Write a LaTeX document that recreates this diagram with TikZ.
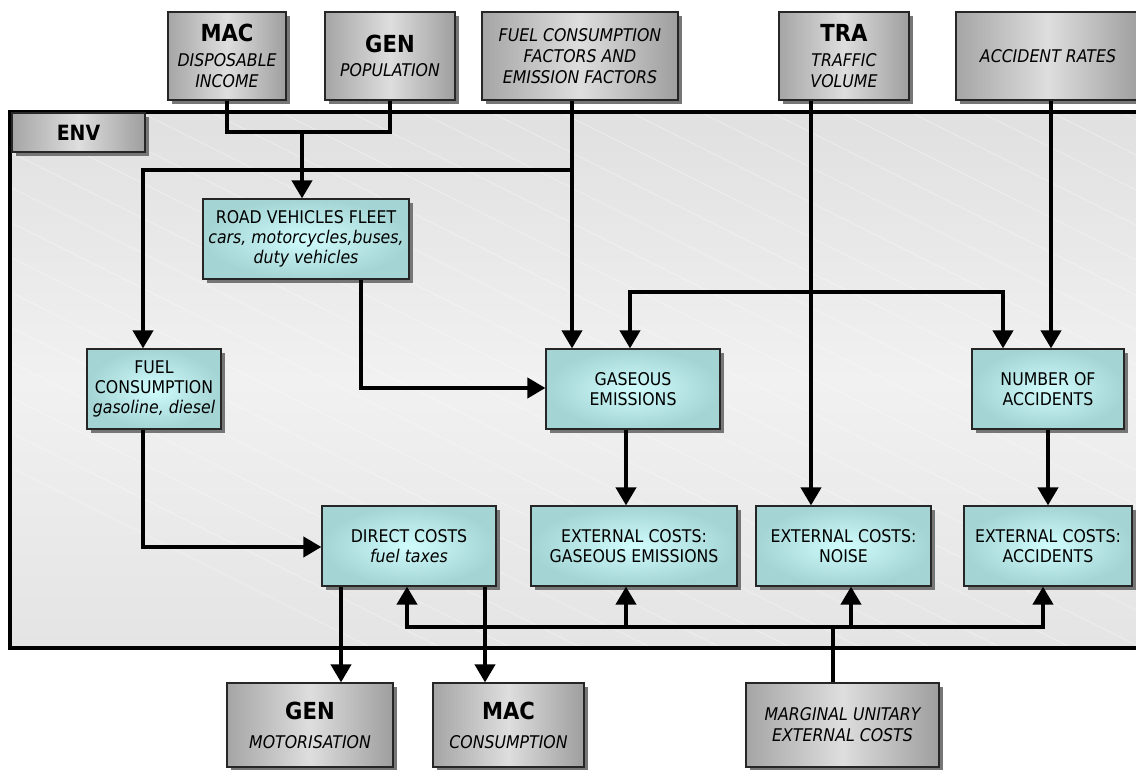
\documentclass[tikz,border=0pt]{standalone}
\usepackage{fontspec}
\setmainfont{DejaVu Sans}[FakeStretch=0.9]
\usetikzlibrary{arrows.meta,shadows}

\definecolor{boxgrayL}{RGB}{165,165,165}
\definecolor{boxgrayM}{RGB}{222,222,222}
\definecolor{boxgrayR}{RGB}{158,158,158}
\definecolor{tealedge}{RGB}{164,212,212}
\definecolor{tealmid}{RGB}{208,252,252}
\definecolor{panelA}{RGB}{224,224,224}
\definecolor{panelB}{RGB}{241,241,241}
\definecolor{panelC}{RGB}{228,228,228}
\definecolor{shadowgray}{RGB}{118,118,118}

\tikzset{
  shadowed/.style={drop shadow={shadow xshift=4pt,shadow yshift=-4pt,opacity=1,fill=shadowgray}},
  wh/.style 2 args={minimum width=#1pt,minimum height=#2pt},
  extbox/.style={shadowed,draw=black!85,line width=1.2pt,
    left color=boxgrayL,right color=boxgrayR,middle color=boxgrayM,
    inner sep=0pt,align=center,font=\fontsize{17.5}{21}\selectfont},
  procbox/.style={shadowed,draw=black!85,line width=1.2pt,
    inner color=tealmid,outer color=tealedge,
    inner sep=0pt,align=center,font=\fontsize{17.5}{20}\selectfont},
  conn/.style={line width=4pt},
  arr/.style={conn,-{Triangle[length=18pt,width=20pt]}},
}
\newcommand\modtitle[1]{{\fontsize{23.5}{21}\selectfont\bfseries #1}}

\begin{document}
\begin{tikzpicture}[x=1pt,y=-1pt]
\useasboundingbox (0,0) rectangle (1136,770);
\clip (0,0) rectangle (1136,770);

% environment module panel
\shade[top color=panelA,bottom color=panelC,middle color=panelB] (10,112) rectangle (1150,648);
\begin{scope}
  \clip (10,112) rectangle (1150,648);
  \foreach \s in {-700,-630,...,1200}
    \draw[white,opacity=.3,line width=1pt] (\s,112) -- ++(1100,550);
\end{scope}
\draw[line width=3.5pt] (10,112) rectangle (1150,648);

\node[extbox,wh={133}{39},font=\fontsize{21}{21}\selectfont\bfseries] (env) at (78.5,132.5) {ENV};

% exogenous inputs
\node[extbox,wh={118}{88}] (macTop) at (227,56) {\modtitle{MAC}\\[4pt]\itshape DISPOSABLE\\\itshape INCOME};
\node[extbox,wh={130}{88}] (genTop) at (390,56) {\modtitle{GEN}\\[3pt]\itshape POPULATION};
\node[extbox,wh={196}{88}] (fuelFac) at (580,56) {\itshape FUEL CONSUMPTION\\\itshape FACTORS AND\\\itshape EMISSION FACTORS};
\node[extbox,wh={130}{88}] (traTop) at (844,56) {\modtitle{TRA}\\[4pt]\itshape TRAFFIC\\\itshape VOLUME};
\node[extbox,wh={184}{88}] (accRates) at (1048,56) {\itshape ACCIDENT RATES};

% processes
\node[procbox,wh={206}{80}] (road) at (306,239) {ROAD VEHICLES FLEET\\\itshape cars, motorcycles,buses,\\\itshape duty vehicles};
\node[procbox,wh={134}{80}] (fuelCons) at (154,389) {FUEL\\CONSUMPTION\\\itshape gasoline, diesel};
\node[procbox,wh={174}{80}] (gaseous) at (633,389) {GASEOUS\\EMISSIONS};
\node[procbox,wh={152}{80}] (numAcc) at (1048,389) {NUMBER OF\\ACCIDENTS};
\node[procbox,wh={174}{80}] (direct) at (409,546) {DIRECT COSTS\\\itshape fuel taxes};
\node[procbox,wh={206}{80}] (extGas) at (634,546) {EXTERNAL COSTS:\\GASEOUS EMISSIONS};
\node[procbox,wh={175}{80}] (extNoise) at (843.5,546) {EXTERNAL COSTS:\\NOISE};
\node[procbox,wh={168}{80}] (extAcc) at (1048,546) {EXTERNAL COSTS:\\ACCIDENTS};

% outputs and cost data
\node[extbox,wh={166}{84}] (genBot) at (310,725) {\modtitle{GEN}\\[8pt]\itshape MOTORISATION};
\node[extbox,wh={151}{84}] (macBot) at (508.5,725) {\modtitle{MAC}\\[8pt]\itshape CONSUMPTION};
\node[extbox,wh={193}{84}] (margBot) at (842.5,725) {\itshape MARGINAL UNITARY\\\itshape EXTERNAL COSTS};

% income and population feed the fleet
\coordinate (jMG) at (302,132);
\draw[conn] (macTop.south) |- (jMG) -| (genTop.south);
\draw[arr] (jMG) -- (jMG |- road.north);

% consumption and emission factors
\coordinate (xFF) at (572,170);
\coordinate (xFC) at (143,170);
\draw[arr] (xFF |- fuelFac.south) -- (xFF |- gaseous.north);
\draw[arr] ([xshift=2pt]xFF) -- (xFC) -- (xFC |- fuelCons.north);

% fleet to emissions
\coordinate (rg) at (361,388);
\draw[arr] (rg |- road.south) -- (rg) -- (rg -| gaseous.west);

% traffic volume
\coordinate (jT) at (811,292);
\coordinate (tG) at (630,292);
\coordinate (tA) at (1003,292);
\draw[arr] (jT |- traTop.south) -- (jT |- extNoise.north);
\draw[arr] (jT) -- (tG) -- (tG |- gaseous.north);
\draw[arr] (jT) -- (tA) -- (tA |- numAcc.north);

% accident rates
\coordinate (xA) at (1051,0);
\draw[arr] (xA |- accRates.south) -- (xA |- numAcc.north);

% processes to costs
\coordinate (xG) at (626,0);
\draw[arr] (xG |- gaseous.south) -- (xG |- extGas.north);
\draw[arr] (numAcc.south) -- (extAcc.north);
\coordinate (fd) at (143,547);
\draw[arr] (fd |- fuelCons.south) -- (fd) -- (fd -| direct.west);

% direct costs to outputs
\coordinate (xD1) at (341,0);
\coordinate (xD2) at (485,0);
\draw[arr] (xD1 |- direct.south) -- (xD1 |- genBot.north);
\draw[arr] (xD2 |- direct.south) -- (xD2 |- macBot.north);

% marginal unitary external costs distribution
\coordinate (jM) at (833,627);
\coordinate (mL) at (407,627);
\coordinate (mR) at (1043,627);
\coordinate (mG) at (626,627);
\coordinate (mN) at (851,627);
\draw[conn] (jM |- margBot.north) -- (jM);
\draw[arr] (jM) -| (mL |- direct.south);
\draw[arr] (jM) -| (mR |- extAcc.south);
\draw[arr] (mG) -- (mG |- extGas.south);
\draw[arr] (mN) -- (mN |- extNoise.south);
\end{tikzpicture}
\end{document}
